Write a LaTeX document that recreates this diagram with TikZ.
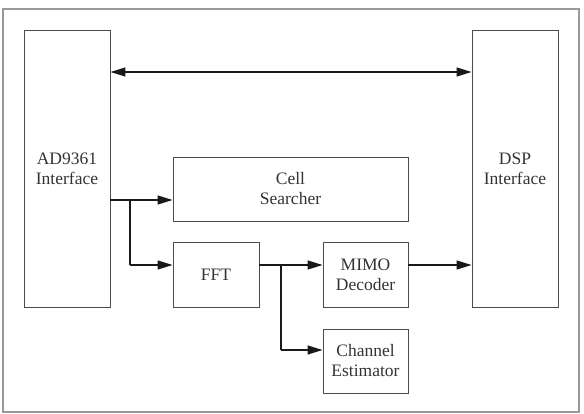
\documentclass[tikz,border=0pt]{standalone}
\usepackage{fontspec}
\setmainfont{Liberation Serif}
\usepackage{tikz}
\usetikzlibrary{positioning,calc,arrows.meta}

\begin{document}
\begin{tikzpicture}[x=1pt,y=-1pt,
    blk/.style={draw=black!70,line width=0.9pt,align=center,text=black!80,
      font=\rmfamily\fontsize{17.5}{20}\selectfont,inner sep=0pt},
    wire/.style={line width=1.1pt,black!90},
    tip/.style={-{Triangle[length=15pt,width=9pt]}}]
   \useasboundingbox (0,0) rectangle (584,414);
   \draw[black!40,line width=1.6pt] (3,9) rectangle (579,412);
   \node[blk,minimum width=86pt,minimum height=277pt] (ad) at (67,168.5) {AD9361\\Interface};
   \node[blk,minimum width=86pt,minimum height=277pt] (dsp) at (515,168.5) {DSP\\Interface};
   \node[blk,minimum width=235pt,minimum height=64pt] (cell) at (290.5,189) {Cell\\Searcher};
   \node[blk,minimum width=86pt,minimum height=65pt] (fft) at (216,274.5) {FFT};
   \node[blk,minimum width=85pt,minimum height=65pt] (mimo) at (365.5,274.5) {MIMO\\Decoder};
   \node[blk,minimum width=85pt,minimum height=64pt] (chan) at (365.5,361) {Channel\\Estimator};
   \coordinate (bus) at (290,72);
   \coordinate (split) at (130,200);
   \coordinate (fork) at (281,265);
   \coordinate (low) at (281,350);
   \path[wire]%
     (ad.east |- bus) edge [{Triangle[length=15pt,width=9pt]}-{Triangle[length=15pt,width=9pt]}] (dsp.west |- bus) %ad to dsp
     (ad.east |- split) edge [tip] (cell.west |- split) %ad to cell
     (split) edge (split |- fork) %split down
     (split |- fork) edge [tip] (fft.west |- fork); %split to fft
   \path[wire]%
     (fft.east |- fork) edge (fork) %fft to fork
     (fork) edge [tip] (mimo.west |- fork) %fork to mimo
     (fork) edge (low) %fork down
     (low) edge [tip] (chan.west |- low) %fork to chan
     (mimo.east |- fork) edge [tip] (dsp.west |- fork); %mimo to dsp
\end{tikzpicture}
\end{document}
